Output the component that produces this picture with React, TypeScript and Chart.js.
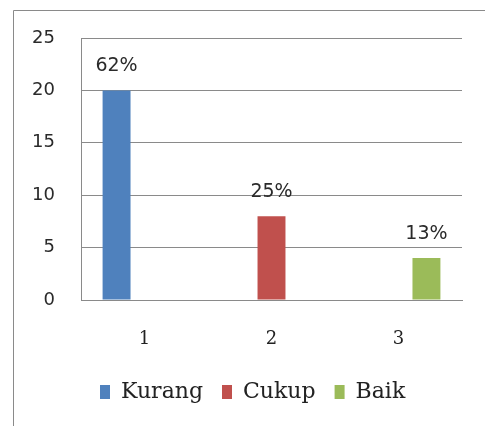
import React, { useEffect, useRef } from 'react';
import { Chart, registerables } from 'chart.js';

Chart.register(...registerables);

const categories = ['1', '2', '3'];
const seriesNames = ['Kurang', 'Cukup', 'Baik'];
const kurangValues = [20, null, null];
const cukupValues = [null, 8, null];
const baikValues = [null, null, 4];
const percentLabels = ['62%', '25%', '13%'];
const seriesColors = ['#4F81BD', '#C0504D', '#9BBB59'];
const yMin = 0;
const yMax = 25;
const yStep = 5;

const framePlugin = {
  id: 'frame',
  beforeDraw(chart: any) {
    const ctx = chart.ctx;
    ctx.save();
    ctx.strokeStyle = '#8a8a8a';
    ctx.lineWidth = 1;
    ctx.beginPath();
    ctx.moveTo(13.5, chart.height);
    ctx.lineTo(13.5, 10.5);
    ctx.lineTo(chart.width, 10.5);
    ctx.stroke();
    ctx.restore();
  },
};

const labelPlugin = {
  id: 'pctLabels',
  afterDatasetsDraw(chart: any) {
    const ctx = chart.ctx;
    ctx.save();
    ctx.font = '19px "DejaVu Sans"';
    ctx.fillStyle = '#2a2a2a';
    ctx.textAlign = 'center';
    ctx.textBaseline = 'middle';
    chart.data.datasets.forEach((ds: any, i: number) => {
      const meta = chart.getDatasetMeta(i);
      ds.data.forEach((v: any, j: number) => {
        if (v === null || v === undefined) return;
        const el = meta.data[j];
        ctx.fillText(percentLabels[i], el.x, el.y - 24);
      });
    });
    ctx.restore();
  },
};

export default function App() {
  const ref = useRef<HTMLCanvasElement>(null);
  useEffect(() => {
    if (!ref.current) return;
    const seriesData = [kurangValues, cukupValues, baikValues];
    const chart = new Chart(ref.current, {
      type: 'bar',
      data: {
        labels: categories,
        datasets: seriesNames.map((name, i) => ({
          label: name,
          data: seriesData[i],
          backgroundColor: seriesColors[i],
          borderWidth: 0,
          barPercentage: 1,
          categoryPercentage: 0.66,
        })),
      },
      options: {
        responsive: false,
        animation: false,
        layout: { padding: { left: 0, top: 38, right: 23, bottom: 13 } },
        scales: {
          x: {
            grid: { display: false },
            border: { display: true, color: '#8a8a8a', width: 1 },
            ticks: { color: '#222', font: { family: '"DejaVu Serif"', size: 18 }, padding: 21, maxRotation: 0 },
            afterFit(scale: any) { scale.height = 62; },
          },
          y: {
            min: yMin,
            max: yMax,
            ticks: { stepSize: yStep, color: '#2a2a2a', font: { family: '"DejaVu Sans"', size: 18 }, padding: 26 },
            grid: { color: '#8a8a8a', lineWidth: 1, drawTicks: false },
            border: { display: true, color: '#8a8a8a', width: 1 },
            afterFit(scale: any) { scale.width = 81; },
          },
        },
        plugins: {
          legend: {
            position: 'bottom',
            fullSize: false,
            align: 'start',
            labels: {
              boxWidth: 10,
              boxHeight: 14,
              padding: 19,
              color: '#222',
              font: { family: '"DejaVu Serif"', size: 22 },
            },
          },
          tooltip: { enabled: false },
        },
      },
      plugins: [framePlugin, labelPlugin],
    });
    return () => chart.destroy();
  }, []);
  return (
    <div style={{ position: 'absolute', left: 0, top: 0, width: 485, height: 426, background: '#fff' }}>
      <canvas ref={ref} width={485} height={426} />
    </div>
  );
}
